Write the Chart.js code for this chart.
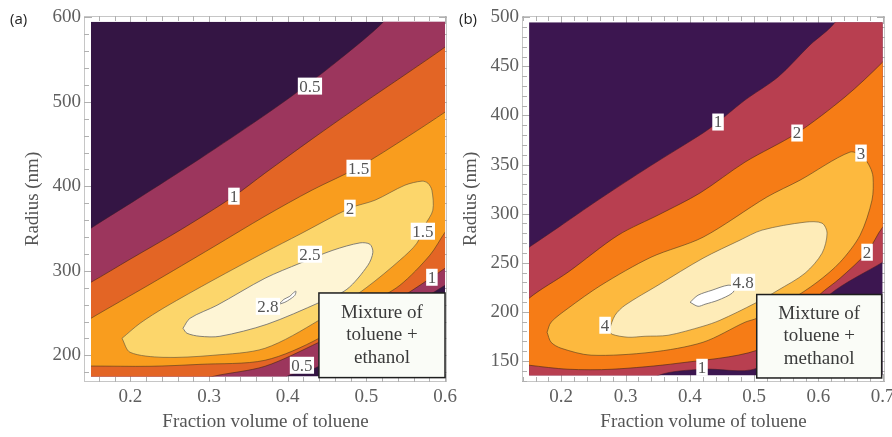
<!DOCTYPE html>
<html><head><meta charset="utf-8">
<script src="https://cdn.jsdelivr.net/npm/chart.js@4.4.0/dist/chart.umd.min.js"></script>
<style>
html,body{margin:0;padding:0;background:#fff;width:892px;height:437px;overflow:hidden;}
canvas{display:block;}
#wa{position:absolute;left:0;top:0;width:458px;height:437px;}
#wb{position:absolute;left:446px;top:0;width:446px;height:437px;}
.tag{position:absolute;font-family:"Open Sans";font-size:15px;color:#222;line-height:18px;}
</style></head><body>
<div id="wa"><canvas id="ca" width="458" height="437"></canvas></div>
<div id="wb"><canvas id="cb" width="446" height="437"></canvas></div>
<div class="tag" style="left:10px;top:9px;">(a)</div>
<div class="tag" style="left:459px;top:9px;">(b)</div>
<script>
// ---------- Panel (a): toluene + ethanol ----------
const xTicksA = [0.2, 0.3, 0.4, 0.5, 0.6];
const yTicksA = [200, 300, 400, 500, 600];
const rangeA = [0.15, 0.6, 175, 595]; // plotted x0,x1,y0,y1
const levelsA = ['0.5', '1', '1.5', '2', '2.5', '2.8'];
const colorsA = ['#341544', '#9c365d', '#e36525', '#f99d1e', '#fcd66b', '#fef5d5', '#ffffff'];
const contourA_05 = [[0.10,318],[0.15,350.5],[0.2084,384.8],[0.2885,432.8],[0.3673,482.0],[0.4156,514.0],[0.4664,550.7],[0.5219,595],[0.56,640],[0.65,650],[0.65,312],[0.6,282.9],[0.5426,249.8],[0.4397,187],[0.399,175],[0.37,150],[0.10,120]];
const contourA_10 = [[0.10,262],[0.15,286.5],[0.1996,313.7],[0.2631,348.1],[0.3317,388.4],[0.3711,415.6],[0.4308,455.9],[0.4943,497.4],[0.5541,535.3],[0.6,564.9],[0.65,600],[0.65,335],[0.6,303.1],[0.5833,292.4],[0.5426,267.5],[0.5007,243.8],[0.4397,215.4],[0.3711,187.0],[0.305,175],[0.25,160],[0.10,150]];
const contourA_15 = [[0.10,215],[0.15,243.8],[0.225,284.1],[0.305,328.0],[0.3711,364.7],[0.4308,395.5],[0.4901,422.7],[0.5537,459.5],[0.6,487.9],[0.65,520],[0.65,410],[0.6,345.7],[0.5807,318.5],[0.5426,282.9],[0.5007,259.2],[0.4397,220.1],[0.3711,194.1],[0.2885,189.3],[0.225,187.0],[0.15,187.3],[0.10,187]];
const contourA_20 = [[0.1894,220.1],[0.2123,237.9],[0.244,256.9],[0.305,288.9],[0.3711,322.0],[0.4156,343.4],[0.4791,374.2],[0.5109,383.6],[0.549,401.4],[0.5706,406.2],[0.5782,403.8],[0.5833,395.5],[0.5845,371.8],[0.5744,354.0],[0.5642,332.7],[0.5426,312.6],[0.5007,280.6],[0.4397,241.5],[0.3711,208.3],[0.305,200],[0.2415,197.6],[0.1996,203.6]];
const contourA_25 = [[0.2669,232.0],[0.2758,243.8],[0.3101,259.2],[0.3711,291.2],[0.4156,309.0],[0.4575,324.4],[0.4918,333.1],[0.5045,331.5],[0.5083,322.0],[0.502,306.6],[0.4753,278.2],[0.441,262.8],[0.3736,236.7],[0.3139,222.5],[0.2885,222.5],[0.272,226.1]];
const contourA_28 = [[0.3889,260.4],[0.3952,266.3],[0.4028,269.9],[0.4079,274.6],[0.4105,275.8],[0.4092,271.1],[0.4028,266.3],[0.3965,262.8]];
const labelsA = [[0.4283,518.7,'0.5'],[0.3317,388.4,'1'],[0.4901,421.5,'1.5'],[0.4791,374.2,'2'],[0.5718,346.9,'1.5'],[0.4283,319.7,'2.5'],[0.5833,292.4,'1'],[0.3749,258,'2.8'],[0.4181,188.2,'0.5']];
const noteA = ['Mixture of', 'toluene +', 'ethanol'];
const noteBoxA = [0.4397, 0.6, 173.6, 273.8];

// ---------- Panel (b): toluene + methanol ----------
const xTicksB = [0.2, 0.3, 0.4, 0.5, 0.6, 0.7];
const yTicksB = [150, 200, 250, 300, 350, 400, 450, 500];
const rangeB = [0.15, 0.7, 135, 495];
const levelsB = ['1', '2', '3', '4', '4.8'];
const colorsB = ['#3c1650', '#b83f50', '#f67c16', '#fdb93e', '#feecb8', '#ffffff'];
const contourB_1 = [[0.10,245],[0.15,265.8],[0.1982,287.2],[0.2573,313.8],[0.3382,348.4],[0.4206,382.1],[0.4439,393.3],[0.4859,415.7],[0.5372,439.1],[0.587,471.8],[0.6259,495],[0.66,540],[0.75,550],[0.75,270],[0.7,250.5],[0.6181,217.9],[0.5715,181.2],[0.5046,142.5],[0.419,141.5],[0.3506,135],[0.30,110],[0.10,110]];
const contourB_2 = [[0.10,180],[0.15,213.8],[0.2107,240.4],[0.2884,278.0],[0.3537,299.5],[0.4159,321.0],[0.4859,352.5],[0.5668,382.1],[0.6414,418.8],[0.7,454.4],[0.75,490],[0.75,320],[0.7,286.2],[0.6757,260.7],[0.6337,234.2],[0.6026,217.9],[0.5559,186.3],[0.5046,160.8],[0.3817,147.6],[0.2791,141.5],[0.2107,141.5],[0.15,145.6],[0.10,150]];
const contourB_3 = [[0.178,179.2],[0.1842,189.4],[0.2107,203.6],[0.262,227.1],[0.3397,255.6],[0.4206,276.0],[0.5197,316.8],[0.5715,334.1],[0.6492,362.7],[0.6694,357.6],[0.6803,347.4],[0.685,337.2],[0.6834,313.8],[0.6648,278.0],[0.6337,250.5],[0.5979,230.1],[0.5559,211.8],[0.5046,193.5],[0.4859,189.4],[0.4206,169.0],[0.3397,158.8],[0.2464,155.8],[0.1998,162.9],[0.1842,169.0]];
const contourB_4 = [[0.2744,181.2],[0.2837,196.5],[0.2993,206.7],[0.3506,227.1],[0.4206,254.6],[0.4781,273.0],[0.5124,283.2],[0.5792,291.3],[0.6057,290.3],[0.6135,280.1],[0.6057,259.7],[0.5792,239.3],[0.5372,222.0],[0.5015,208.7],[0.447,191.4],[0.4206,185.3],[0.3662,176.1],[0.3304,175.1],[0.304,174.1],[0.2791,177.1]];
const contourB_48 = [[0.4004,209.7],[0.4128,216.9],[0.4346,222.0],[0.4595,227.1],[0.4704,225.0],[0.4657,218.9],[0.4439,211.8],[0.4237,207.7],[0.4128,205.6]];
const labelsB = [[0.4439,393.3,'1'],[0.5668,382.1,'2'],[0.6663,361.7,'3'],[0.6757,260.7,'2'],[0.4828,230.1,'4.8'],[0.2682,186.3,'4'],[0.419,143.5,'1']];
const noteB = ['Mixture of', 'toluene +', 'methanol'];
const noteBoxB = [0.5041, 0.6984, 132.6, 217.6];

const SERIF = '"Liberation Serif", "DejaVu Serif", serif';
const lineColor = ['rgba(60,30,40,0.55)','rgba(70,40,20,0.6)','rgba(80,60,30,0.6)','rgba(90,80,60,0.6)','rgba(110,110,110,0.85)','rgba(120,120,120,0.9)'];

function closePts(p){ const a = p.map(([x,y])=>({x,y})); a.push({x:p[0][0],y:p[0][1]}); return a; }

function buildPanel(id, o){
  const [x0,x1,y0,y1] = o.range;
  const datasets = [{
    data: closePts([[x0,y0],[x1,y0],[x1,y1],[x0,y1]]),
    showLine:true, fill:'shape', backgroundColor:o.colors[0], borderWidth:0, pointRadius:0, tension:0, order:100
  }];
  o.polys.forEach((p,i)=>{
    datasets.push({
      label: o.levels[i], order: 90 - i,
      data: closePts(p), showLine:true, fill:'shape',
      backgroundColor:o.colors[i+1], borderColor:lineColor[Math.min(i,lineColor.length-1)],
      borderWidth:1, pointRadius:0, tension:0.3
    });
  });
  const deco = {
    id:'deco_'+id,
    beforeDatasetsDraw(chart){
      const {ctx, chartArea:ca, scales:{x,y}} = chart;
      // frame and inward ticks (drawn beneath the filled region)
      ctx.save();
      ctx.strokeStyle='#c6c6c6'; ctx.lineWidth=1;
      ctx.strokeRect(Math.round(ca.left)+0.5, Math.round(ca.top)+0.5, Math.round(ca.right-ca.left)-1, Math.round(ca.bottom-ca.top)-1);
      ctx.strokeStyle='#b0b0b0';
      ctx.beginPath();
      const isMajor=(v,arr)=>arr.some(t=>Math.abs(t-v)<1e-6);
      for(let k=Math.ceil(x.min/o.xMinor); k*o.xMinor<=x.max+1e-9; k++){
        const vv=k*o.xMinor;
        const px=Math.round(x.getPixelForValue(vv))+0.5, len=isMajor(vv,o.xt)?8:5;
        ctx.moveTo(px,ca.bottom); ctx.lineTo(px,ca.bottom-len);
        ctx.moveTo(px,ca.top); ctx.lineTo(px,ca.top+len);
      }
      for(let k=Math.ceil(y.min/o.yMinor); k*o.yMinor<=y.max+1e-9; k++){
        const v=k*o.yMinor;
        const py=Math.round(y.getPixelForValue(v))+0.5, len=isMajor(v,o.yt)?8:5;
        ctx.moveTo(ca.left,py); ctx.lineTo(ca.left+len,py);
        ctx.moveTo(ca.right,py); ctx.lineTo(ca.right-len,py);
      }
      ctx.stroke();
      ctx.restore();
      const l=x.getPixelForValue(x0), r=x.getPixelForValue(x1), t=y.getPixelForValue(y1), b=y.getPixelForValue(y0);
      ctx.save(); ctx.beginPath(); ctx.rect(l,t,r-l,b-t); ctx.clip();
    },
    afterDatasetsDraw(chart){
      const {ctx, chartArea:ca, scales:{x,y}} = chart;
      ctx.restore();
      ctx.save();
      ctx.font = '17px '+SERIF; ctx.textAlign='center'; ctx.textBaseline='middle';
      o.labels.forEach(([vx,vy,s])=>{
        const px=x.getPixelForValue(vx), py=y.getPixelForValue(vy);
        const w=ctx.measureText(s).width+3, h=17;
        ctx.fillStyle='#ffffff'; ctx.fillRect(px-w/2,py-h/2,w,h);
        ctx.fillStyle='#555'; ctx.fillText(s,px,py+1);
      });
      const [bx0,bx1,by0,by1] = o.noteBox;
      const l=x.getPixelForValue(bx0), r=x.getPixelForValue(bx1), t=y.getPixelForValue(by1), b=y.getPixelForValue(by0);
      ctx.fillStyle='#fafcf7'; ctx.fillRect(l,t,r-l,b-t);
      ctx.strokeStyle='#1e1e1e'; ctx.lineWidth=1.5; ctx.strokeRect(l,t,r-l,b-t);
      ctx.font='19px '+SERIF; ctx.fillStyle='#3a3a3a';
      const cx=(l+r)/2, cy=(t+b)/2, lh=22.7;
      o.note.forEach((s,i)=> ctx.fillText(s,cx,cy+(i-1)*lh));
      // axis titles
      ctx.fillStyle='#555'; ctx.font='19px '+SERIF;
      ctx.fillText('Fraction volume of toluene',(ca.left+ca.right)/2, ca.bottom+40);
      ctx.translate(ca.left-51,(ca.top+ca.bottom)/2); ctx.rotate(-Math.PI/2);
      ctx.fillText('Radius (nm)',0,0);
      ctx.restore();
    }
  };
  return new Chart(document.getElementById(id), {
    type:'scatter',
    data:{datasets},
    options:{
      responsive:false, animation:false, events:[],
      layout:{padding:{left:0,top:16,right:o.padRight,bottom:0}},
      plugins:{legend:{display:false}, tooltip:{enabled:false}},
      scales:{
        x:{type:'linear', min:o.xmin, max:o.xmax,
          afterBuildTicks:s=>{s.ticks=o.xt.map(v=>({value:v}));},
          afterFit:s=>{s.height=55; s.paddingLeft=0; s.paddingRight=0;},
          grid:{display:false,drawTicks:false}, border:{display:false},
          ticks:{autoSkip:false,maxRotation:0,padding:4,color:'#5f5f5f',font:{family:SERIF,size:19},callback:v=>Number(v).toFixed(1)}},
        y:{type:'linear', min:o.ymin, max:o.ymax,
          afterBuildTicks:s=>{s.ticks=o.yt.map(v=>({value:v}));},
          afterFit:s=>{s.width=o.yw; s.paddingTop=0; s.paddingBottom=0;},
          grid:{display:false,drawTicks:false}, border:{display:false},
          ticks:{autoSkip:false,padding:3,color:'#5f5f5f',font:{family:SERIF,size:19},callback:v=>String(v)}}
      }
    },
    plugins:[deco]
  });
}

buildPanel('ca',{range:rangeA, colors:colorsA, levels:levelsA,
  polys:[contourA_05,contourA_10,contourA_15,contourA_20,contourA_25,contourA_28],
  labels:labelsA, note:noteA, noteBox:noteBoxA, xt:xTicksA, yt:yTicksA,
  xmin:0.1411, xmax:0.6025, ymin:168.4, ymax:601.7, yw:84, padRight:11, xMinor:0.02, yMinor:20});
buildPanel('cb',{range:rangeB, colors:colorsB, levels:levelsB,
  polys:[contourB_1,contourB_2,contourB_3,contourB_4,contourB_48],
  labels:labelsB, note:noteB, noteBox:noteBoxB, xt:xTicksB, yt:yTicksB,
  xmin:0.139, xmax:0.7036, ymin:128.5, ymax:501.3, yw:76, padRight:7, xMinor:0.02, yMinor:10});
</script>
</body></html>
